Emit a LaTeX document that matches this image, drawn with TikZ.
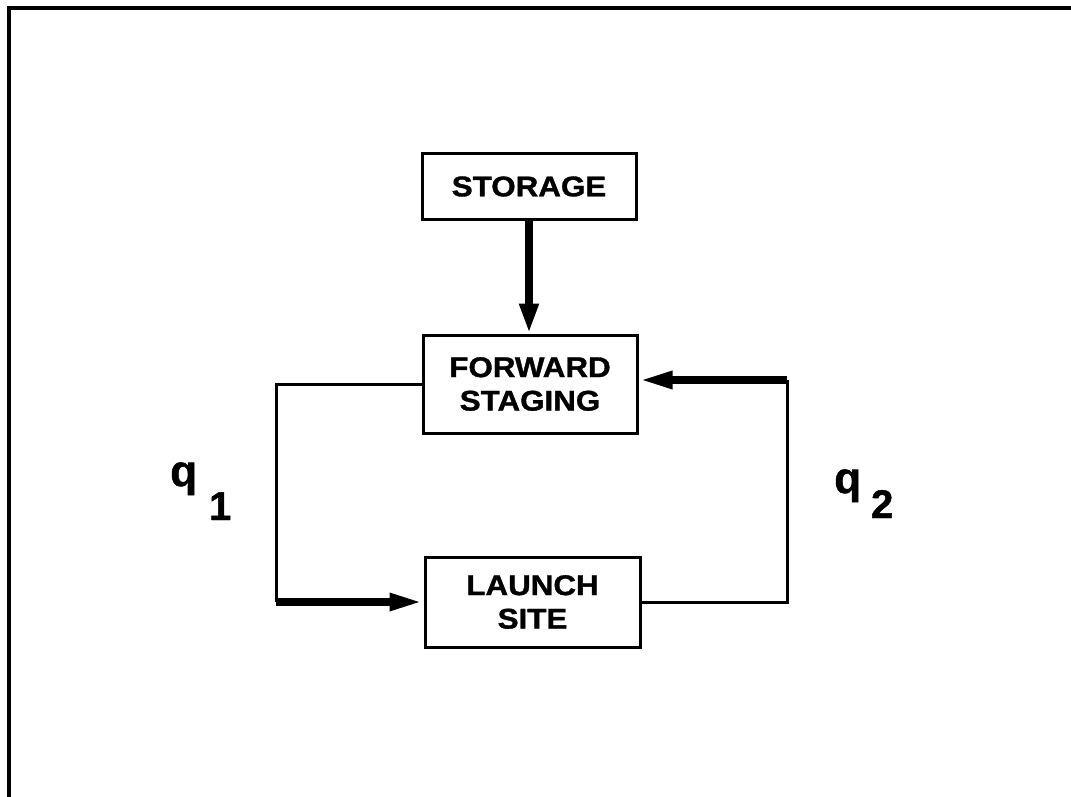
\documentclass[tikz,border=0pt]{standalone}
\usepackage{fontspec}
\newfontfamily\boxfont[FakeStretch=1.1,FakeBold=1.2]{Liberation Sans}
\newfontfamily\labfont[FakeBold=1.2]{Liberation Sans}
\usetikzlibrary{arrows.meta}
\begin{document}
\begin{tikzpicture}[x=1pt,y=-1pt,
  box/.style={draw,line width=3pt,inner sep=0pt,align=center,
    font=\boxfont\bfseries\fontsize{28.5}{33.5}\selectfont},
  thinline/.style={line width=3pt},
  thickarrow/.style={line width=8pt,-{Triangle[length=34pt,width=16pt]}},
  frameline/.style={line width=4pt},
  qlabel/.style={inner sep=0pt,font=\labfont\bfseries\fontsize{44}{44}\selectfont}]
\useasboundingbox (0,0) rectangle (1071,797);
\draw[frameline] (9,797) -- (9,8) -- (1071,8);
\node[box,minimum width=214pt,minimum height=65pt] (st) at (529,186.5) {STORAGE};
\node[box,minimum width=214pt,minimum height=98pt] (fs) at (530,384) {FORWARD\\STAGING};
\node[box,minimum width=215pt,minimum height=90pt] (ls) at (532.5,602) {LAUNCH\\SITE};
\coordinate (l1) at (276,384);
\coordinate (l2) at (276,602);
\coordinate (r1) at (787,602);
\coordinate (r2) at (787,380);
\draw[thickarrow,-{Triangle[length=30pt,width=18pt]}] (st.south) -- (st.south |- fs.north);
\draw[thinline] (fs.west) -- (l1) -- (l2);
\draw[thickarrow] (l2) -- (ls.west);
\draw[thinline] (ls.east) -- (r1) -- (r2);
\draw[thickarrow] (r2) -- (r2 -| fs.east);
\node[qlabel,anchor=base west] (q1) at (170,486) {q\hspace{12pt}\raisebox{-34pt}{\fontsize{40}{40}\selectfont 1}};
\node[qlabel,anchor=base west] (q2) at (834,493) {q\hspace{10pt}\raisebox{-25pt}{\fontsize{40}{40}\selectfont 2}};
\end{tikzpicture}
\end{document}
